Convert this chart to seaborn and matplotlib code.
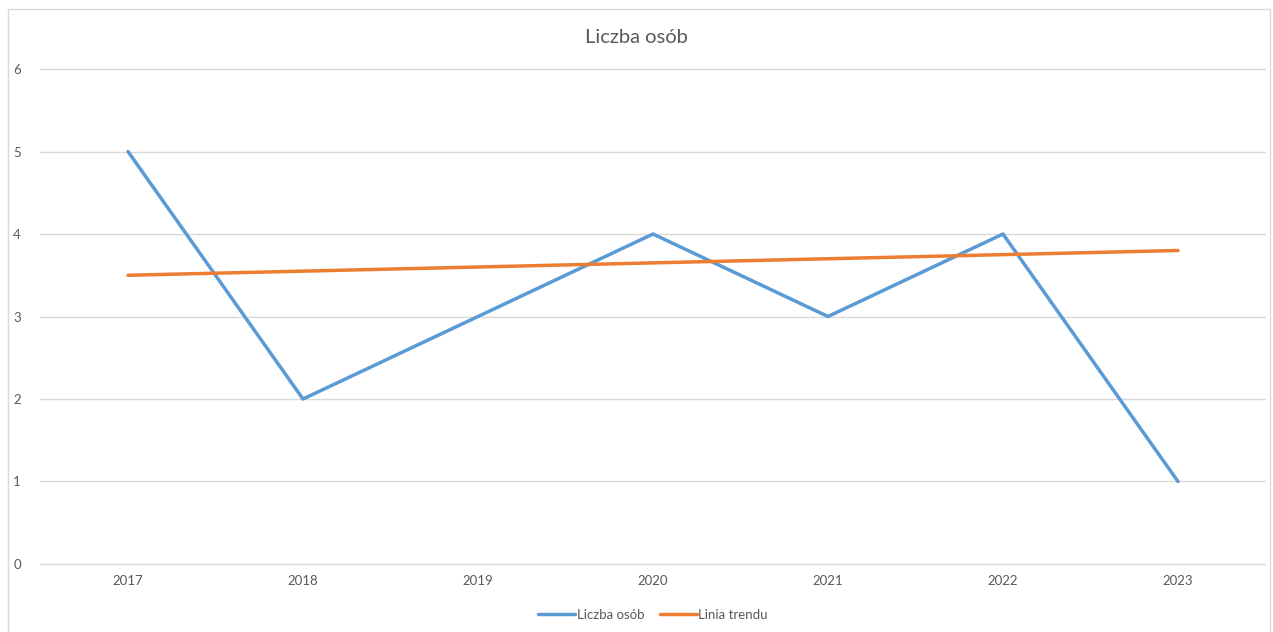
import pandas as pd
import matplotlib
matplotlib.use("Agg")
import matplotlib.pyplot as plt
import seaborn as sns
from matplotlib.patches import Rectangle

# data
years = ["2017", "2018", "2019", "2020", "2021", "2022", "2023"]
people = [5, 2, 3, 4, 3, 4, 1]
trend = [3.5, 3.55, 3.6, 3.65, 3.7, 3.75, 3.8]

df = pd.DataFrame({"Rok": years, "Liczba osób": people, "Linia trendu": trend})
long_df = df.melt(id_vars="Rok", var_name="Seria", value_name="Wartość")

sns.set_style("white")
plt.rcParams["font.family"] = ["Lato", "DejaVu Sans"]

fig = plt.figure(figsize=(12.73, 6.32), dpi=100)
ax = fig.add_axes([0.0318, 0.1076, 0.9623, 0.7832])

sns.lineplot(data=long_df, x="Rok", y="Wartość", hue="Seria",
             palette={"Liczba osób": "#5B9BD5", "Linia trendu": "#ED7D31"},
             linewidth=2.5, ax=ax, sort=False, solid_capstyle="round",
             solid_joinstyle="round")

ax.set_xlim(-0.5, 6.5)
ax.set_ylim(0, 6)
ax.set_yticks(range(0, 7))
ax.yaxis.grid(True, color="#D9D9D9", linewidth=1)
ax.set_axisbelow(True)
for gl in ax.get_ygridlines():
    gl.set_clip_on(False)
for s in ax.spines.values():
    s.set_visible(False)
ax.tick_params(axis="both", length=0, labelsize=9.5, colors="#595959")
ax.tick_params(axis="y", pad=14)
ax.tick_params(axis="x", pad=8)
ax.set_xlabel("")
ax.set_ylabel("")

fig.text(0.5, 0.94, "Liczba osób", ha="center", va="center",
         fontsize=14.5, color="#595959")

ax.legend(loc="center", bbox_to_anchor=(0.5, -0.103), ncol=2, frameon=False,
          fontsize=9.5, handlelength=2.8, handletextpad=0.1, columnspacing=1.2,
          labelcolor="#595959")

fig.patches.append(Rectangle((8 / 1273, -0.01), 1262 / 1273, 1 - 9 / 632 + 0.01,
                             transform=fig.transFigure, fill=False,
                             edgecolor="#D9D9D9", linewidth=1))

fig.savefig("out.png", dpi=100)
